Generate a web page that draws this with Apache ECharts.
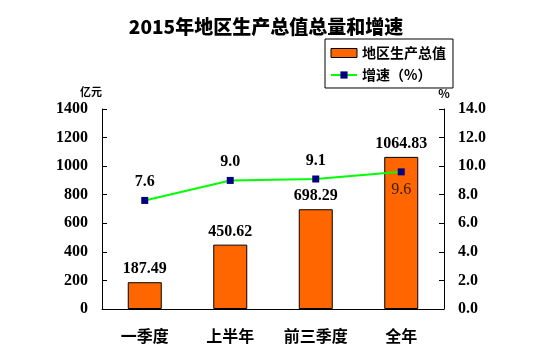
<!DOCTYPE html>
<html><head><meta charset="utf-8">
<script src="https://cdn.jsdelivr.net/npm/echarts@6/dist/echarts.min.js"></script>
<style>html,body{margin:0;padding:0;background:#fff}#c{width:547px;height:355px}</style>
</head><body><div id="c"></div>
<script>
const categories = ['一季度', '上半年', '前三季度', '全年'];
const gdpValues = [187.49, 450.62, 698.29, 1064.83];
const growthValues = [7.6, 9.0, 9.1, 9.6];
const leftTicks = [0, 200, 400, 600, 800, 1000, 1200, 1400];
const rightTicks = ['0.0', '2.0', '4.0', '6.0', '8.0', '10.0', '12.0', '14.0'];

const serif = 'Liberation Serif';
const chart = echarts.init(document.getElementById('c'), null, {renderer: 'canvas'});
chart.setOption({
  animation: false,
  backgroundColor: '#fff',
  title: {
    text: '2015年地区生产总值总量和增速',
    left: 261, top: 12, textAlign: 'center',
    textStyle: {fontFamily: 'Noto Sans CJK SC', fontWeight: 900, fontSize: 19, color: '#000'}
  },
  legend: {
    orient: 'vertical', left: 325, top: 39, width: 125,
    padding: [7, 7, 6, 5], itemGap: 8,
    borderColor: '#000', borderWidth: 1,
    itemWidth: 26, itemHeight: 9,
    textStyle: {fontFamily: 'Noto Sans CJK SC', fontWeight: 'bold', fontSize: 14, color: '#000'},
    data: [
      {name: '地区生产总值', icon: 'rect', itemStyle: {color: '#ff6600', borderColor: '#000', borderWidth: 1}},
      {name: '增速（%）'}
    ]
  },
  grid: {left: 102, right: 103, top: 109, bottom: 46},
  xAxis: {
    type: 'category', data: categories,
    axisLine: {lineStyle: {color: '#000', width: 1}},
    axisTick: {inside: true, length: 5, lineStyle: {color: '#000'}},
    axisLabel: {margin: 19, color: '#000', fontFamily: 'Noto Sans CJK SC', fontWeight: 'bold', fontSize: 16}
  },
  yAxis: [
    {
      type: 'value', min: 0, max: 1400, interval: 200,
      name: '亿元', nameLocation: 'end', nameGap: 12,
      nameTextStyle: {align: 'right', fontFamily: 'Noto Sans CJK SC', fontWeight: 'bold', fontSize: 11, color: '#000'},
      axisLine: {show: true, lineStyle: {color: '#000'}},
      axisTick: {show: true, inside: true, length: 5, lineStyle: {color: '#000'}},
      splitLine: {show: false},
      axisLabel: {margin: 14, color: '#000', fontFamily: serif, fontWeight: 'bold', fontSize: 16,
        formatter: v => String(leftTicks[Math.round(v / 200)])}
    },
    {
      type: 'value', min: 0, max: 14, interval: 2,
      name: '%', nameLocation: 'end', nameGap: 10,
      nameTextStyle: {fontFamily: 'Noto Sans CJK SC', fontWeight: 'bold', fontSize: 12, color: '#000'},
      axisLine: {show: true, lineStyle: {color: '#000'}},
      axisTick: {show: true, inside: true, length: 5, lineStyle: {color: '#000'}},
      splitLine: {show: false},
      axisLabel: {margin: 14, color: '#000', fontFamily: serif, fontWeight: 'bold', fontSize: 16,
        formatter: v => rightTicks[Math.round(v / 2)]}
    }
  ],
  series: [
    {
      name: '地区生产总值', type: 'bar', yAxisIndex: 0, barWidth: 34,
      data: gdpValues,
      itemStyle: {color: '#ff6600', borderColor: '#000', borderWidth: 1},
      label: {show: true, position: 'top', distance: 5, color: '#000', fontFamily: serif, fontWeight: 'bold', fontSize: 16,
        formatter: p => p.value.toFixed(2)}
    },
    {
      name: '增速（%）', type: 'line', yAxisIndex: 1,
      data: growthValues.map((v, i) => i === 3 ? {value: v, label: {position: 'bottom', distance: 6, fontWeight: 'normal', color: '#3a1c00'}} : v),
      lineStyle: {color: '#00ff00', width: 2},
      itemStyle: {color: '#000080'},
      symbol: 'rect', symbolSize: 7,
      label: {show: true, position: 'top', distance: 7, color: '#000', fontFamily: serif, fontWeight: 'bold', fontSize: 16,
        formatter: p => p.value.toFixed(1)}
    }
  ]
});
</script></body></html>
